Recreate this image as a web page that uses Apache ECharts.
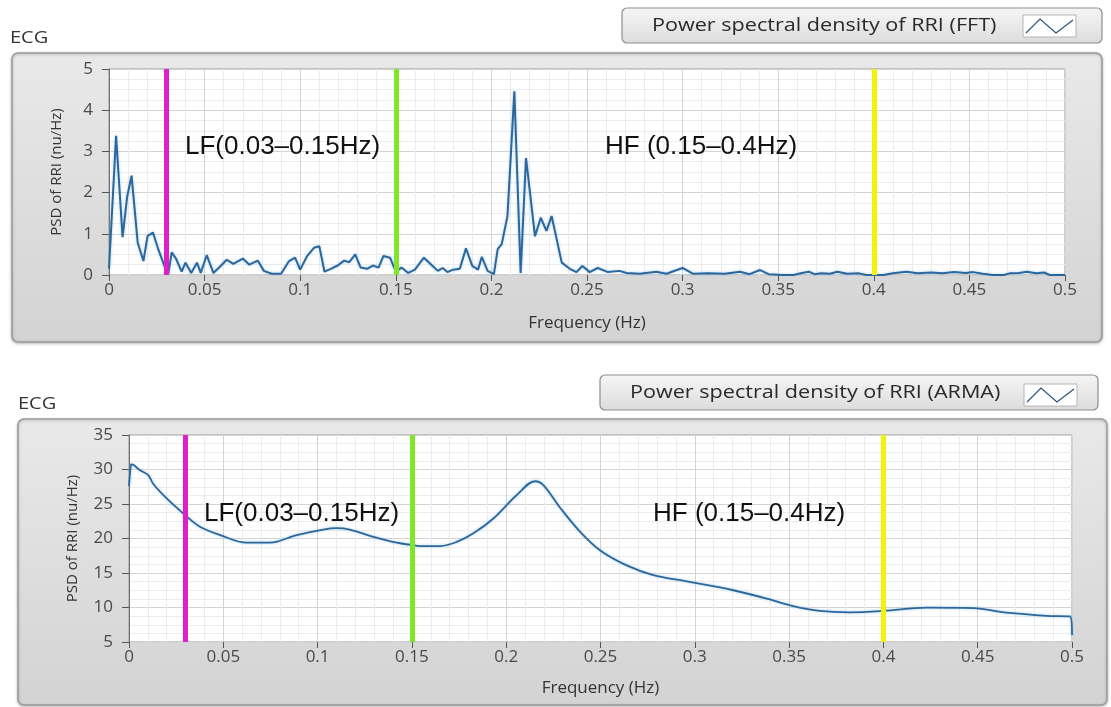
<!DOCTYPE html>
<html>
<head>
<meta charset="utf-8">
<script src="https://cdn.jsdelivr.net/npm/echarts@6/dist/echarts.min.js"></script>
<style>
  html, body { margin: 0; padding: 0; background: #fff; }
  #chart { width: 1111px; height: 707px; }
</style>
</head>
<body>
<div id="chart"></div>
<script>
// FFT spectrum (top panel)
var fftFreq = [0, 0.0037, 0.0071, 0.0095, 0.0118, 0.015, 0.018, 0.0202, 0.023, 0.0258, 0.0293, 0.031,
  0.0328, 0.035, 0.038, 0.040, 0.043, 0.046, 0.048, 0.0511, 0.0546, 0.058, 0.0616, 0.065, 0.070,
  0.0734, 0.0778, 0.081, 0.085, 0.090, 0.094, 0.0973, 0.100, 0.1035, 0.1072, 0.110, 0.1127, 0.116,
  0.1196, 0.123, 0.1257, 0.1288, 0.1316, 0.135, 0.138, 0.141, 0.1435, 0.147, 0.150, 0.153, 0.1565,
  0.160, 0.1647, 0.169, 0.172, 0.1745, 0.177, 0.180, 0.1835, 0.1867, 0.190, 0.193, 0.195, 0.198,
  0.2013, 0.2033, 0.2054, 0.2084, 0.212, 0.2153, 0.2181, 0.2228, 0.2258, 0.2288, 0.2315, 0.2368,
  0.241, 0.2445, 0.2476, 0.2514, 0.2556, 0.261, 0.267, 0.2706, 0.2776, 0.2863, 0.2915, 0.300,
  0.3055, 0.3135, 0.322, 0.330, 0.335, 0.3405, 0.345, 0.352, 0.358, 0.3624, 0.366, 0.369, 0.3726,
  0.377, 0.381, 0.386, 0.3923, 0.396, 0.405, 0.410, 0.417, 0.423, 0.430, 0.436, 0.442, 0.448,
  0.452, 0.457, 0.462, 0.468, 0.471, 0.476, 0.480, 0.485, 0.489, 0.492, 0.500];
var fftPsd = [0.15, 3.38, 0.92, 1.9, 2.41, 0.79, 0.34, 0.95, 1.03, 0.62, 0.18, 0.03,
  0.55, 0.4, 0.08, 0.3, 0.05, 0.3, 0.05, 0.48, 0.05, 0.2, 0.37, 0.27, 0.4,
  0.25, 0.35, 0.1, 0.03, 0.03, 0.33, 0.42, 0.13, 0.45, 0.66, 0.7, 0.08, 0.15,
  0.23, 0.35, 0.31, 0.5, 0.18, 0.15, 0.23, 0.18, 0.46, 0.42, 0.08, 0.18, 0.05,
  0.13, 0.42, 0.23, 0.1, 0.17, 0.07, 0.13, 0.15, 0.65, 0.22, 0.13, 0.44, 0.1,
  0.02, 0.63, 0.75, 1.43, 4.46, 0.05, 2.84, 0.94, 1.39, 1.07, 1.43, 0.3,
  0.15, 0.07, 0.22, 0.07, 0.17, 0.07, 0.1, 0.05, 0.03, 0.08, 0.03, 0.17,
  0.03, 0.04, 0.03, 0.08, 0.02, 0.12, 0.02, 0, 0, 0.05, 0.08, 0.02, 0.04,
  0.03, 0.08, 0.03, 0.04, 0, 0, 0.04, 0.08, 0.04, 0.06, 0.04, 0.07, 0.05,
  0.07, 0.03, 0, 0, 0.04, 0.05, 0.08, 0.04, 0.06, 0, 0];

// ARMA spectrum (bottom panel)
var armaFreq = [0, 0.001, 0.0014, 0.0058, 0.0102, 0.0129, 0.020, 0.0297, 0.0376, 0.0483, 0.0624,
  0.0748, 0.0889, 0.103, 0.110, 0.117, 0.1296, 0.142, 0.150, 0.1543, 0.165, 0.1738, 0.1826,
  0.1932, 0.2056, 0.2153, 0.2197, 0.2285, 0.2391, 0.2497, 0.2639, 0.278, 0.2957, 0.3134,
  0.3204, 0.3381, 0.3522, 0.3664, 0.3823, 0.400, 0.423, 0.4477, 0.4654, 0.4866, 0.499, 0.500];
var armaPsd = [27.6, 30.65, 30.75, 29.9, 29.2, 27.9, 25.8, 23.4, 21.7, 20.5, 19.4,
  19.4, 20.5, 21.3, 21.5, 21.3, 20.25, 19.4, 19.05, 18.9, 18.9, 19.5, 20.75,
  22.9, 26.3, 28.3, 27.75, 24.5, 21.0, 18.3, 16.1, 14.7, 13.8, 12.9,
  12.5, 11.3, 10.2, 9.5, 9.3, 9.5, 9.97, 9.9, 9.25, 8.8, 8.7, 6.0];

// band limits and labels
var bandEdges = [0.03, 0.15, 0.4];
var bandColors = ['#e01fc8', '#7fe62a', '#f2f20a'];
var bandLabels = ['LF(0.03–0.15Hz)', 'HF (0.15–0.4Hz)'];
var seriesNames = ['Power spectral density of RRI (FFT)', 'Power spectral density of RRI (ARMA)'];
var panelTitle = 'ECG';
var xName = 'Frequency (Hz)';
var yName = 'PSD of RRI (nu/Hz)';

var uiFont = '"Open Sans", "Noto Sans", sans-serif';
var lineColor = '#2c679b';

function pairs(xs, ys) {
  return xs.map(function (x, i) { return [x, ys[i]]; });
}

function bandMarks() {
  return {
    silent: true,
    symbol: ['none', 'none'],
    label: { show: false },
    lineStyle: { width: 5, type: 'solid' },
    data: bandEdges.map(function (x, i) {
      return { xAxis: x, lineStyle: { color: bandColors[i], width: 5, type: 'solid' } };
    })
  };
}

function xAxisFor(idx, gap) {
  return {
    gridIndex: idx, type: 'value', min: 0, max: 0.5, interval: 0.05,
    name: xName, nameLocation: 'middle', nameGap: gap,
    nameTextStyle: { fontFamily: uiFont, fontSize: 17, color: '#333' },
    axisLine: { show: false },
    axisTick: { show: true, length: 6, lineStyle: { color: '#555' } },
    axisLabel: { fontFamily: uiFont, fontSize: 17, color: '#4a4a4a', margin: 7,
      formatter: function (v) { return +v.toFixed(2) + ''; } },
    splitLine: { show: true, lineStyle: { color: '#d4d4d4', width: 1 } },
    minorTick: { show: false, splitNumber: 5 },
    minorSplitLine: { show: true, lineStyle: { color: '#ececec', width: 1 } }
  };
}

function yAxisFor(idx, min, max, step, gap) {
  return {
    gridIndex: idx, type: 'value', min: min, max: max, interval: step,
    name: yName, nameLocation: 'middle', nameGap: gap,
    nameTextStyle: { fontFamily: uiFont, fontSize: 15, color: '#333' },
    axisLine: { show: true, lineStyle: { color: '#6e6e6e', width: 1 } },
    axisTick: { show: true, length: 7, lineStyle: { color: '#555' } },
    axisLabel: { fontFamily: uiFont, fontSize: 17, color: '#4a4a4a', margin: 16 },
    splitLine: { show: true, lineStyle: { color: '#d4d4d4', width: 1 } },
    minorTick: { show: false, splitNumber: 4 },
    minorSplitLine: { show: true, lineStyle: { color: '#ececec', width: 1 } }
  };
}

function panel(x, y, w, h) {
  return {
    type: 'rect', z: -10, silent: true,
    shape: { x: x, y: y, width: w, height: h, r: 6 },
    style: {
      fill: new echarts.graphic.LinearGradient(0, 0, 0, 1, [
        { offset: 0, color: '#e9e9e9' }, { offset: 1, color: '#d3d3d3' }
      ]),
      stroke: '#9a9a9a', lineWidth: 1.5,
      shadowBlur: 3, shadowColor: 'rgba(0,0,0,0.25)', shadowOffsetY: 1
    }
  };
}

// the reference UI text is slightly wide, so legend text is stretched horizontally
function legendBox(x, y, w, h, textX, name, icon) {
  return [
    {
      type: 'rect', z: 5, silent: true,
      shape: { x: x, y: y, width: w, height: h, r: 5 },
      style: {
        fill: new echarts.graphic.LinearGradient(0, 0, 0, 1, [
          { offset: 0, color: '#f6f6f6' }, { offset: 1, color: '#dcdcdc' }
        ]),
        stroke: '#8e8e8e', lineWidth: 1.2
      }
    },
    {
      type: 'text', z: 6, silent: true, x: textX, y: y + h / 2, scaleX: 1.2,
      style: { text: name, fontFamily: uiFont, fontSize: 18, fill: '#2a2a2a', verticalAlign: 'middle' }
    },
    {
      type: 'rect', z: 6, silent: true,
      shape: { x: icon[0], y: icon[1], width: 53, height: 22 },
      style: { fill: '#fff', stroke: '#b5b5b5', lineWidth: 1 }
    },
    {
      type: 'polyline', z: 7, silent: true,
      shape: { points: [[icon[0] + 3, icon[1] + 18], [icon[0] + 17, icon[1] + 4],
        [icon[0] + 33, icon[1] + 18], [icon[0] + 50, icon[1] + 5]] },
      style: { stroke: '#24557f', lineWidth: 1.2, fill: null }
    }
  ];
}

function bandText(x, y, txt) {
  return {
    type: 'text', z: 50, silent: true, x: x, y: y,
    style: { text: txt, fontFamily: '"Liberation Sans", Arial, sans-serif', fontSize: 26,
      fill: '#111', verticalAlign: 'middle' }
  };
}

function titleText(x, y) {
  return {
    type: 'text', x: x, y: y, scaleX: 1.25, silent: true,
    style: { text: panelTitle, fontFamily: uiFont, fontSize: 16, fill: '#333', verticalAlign: 'middle' }
  };
}

var graphics = [
  panel(12, 53, 1090, 289),
  panel(18, 419, 1089, 286),
  titleText(10, 38),
  titleText(18, 404),
  bandText(185, 147, bandLabels[0]),
  bandText(605, 147, bandLabels[1]),
  bandText(204, 514, bandLabels[0]),
  bandText(653, 514, bandLabels[1])
].concat(legendBox(622, 8, 480, 35, 652, seriesNames[0], [1023, 15]))
 .concat(legendBox(600, 375, 498, 35, 630, seriesNames[1], [1024, 384]));

var chart = echarts.init(document.getElementById('chart'), null, { renderer: 'canvas' });
chart.setOption({
  backgroundColor: '#ffffff',
  animation: false,
  graphic: { elements: graphics },
  grid: [
    { left: 109, top: 69, width: 956, height: 206, show: true, backgroundColor: '#ffffff',
      borderColor: '#9a9a9a', borderWidth: 1 },
    { left: 129, top: 435, width: 943, height: 207, show: true, backgroundColor: '#ffffff',
      borderColor: '#9a9a9a', borderWidth: 1 }
  ],
  xAxis: [xAxisFor(0, 40), xAxisFor(1, 38)],
  yAxis: [yAxisFor(0, 0, 5, 1, 45), yAxisFor(1, 5, 35, 5, 49)],
  series: [
    {
      name: seriesNames[0], type: 'line', xAxisIndex: 0, yAxisIndex: 0,
      data: pairs(fftFreq, fftPsd), showSymbol: false, smooth: false,
      lineStyle: { color: lineColor, width: 2, shadowColor: 'rgba(120,180,230,0.6)', shadowBlur: 3 },
      itemStyle: { color: lineColor },
      markLine: bandMarks()
    },
    {
      name: seriesNames[1], type: 'line', xAxisIndex: 1, yAxisIndex: 1,
      data: pairs(armaFreq, armaPsd), showSymbol: false, smooth: 0.35,
      lineStyle: { color: lineColor, width: 1.8, shadowColor: 'rgba(120,180,230,0.6)', shadowBlur: 3 },
      itemStyle: { color: lineColor },
      markLine: bandMarks()
    }
  ]
});
</script>
</body>
</html>
